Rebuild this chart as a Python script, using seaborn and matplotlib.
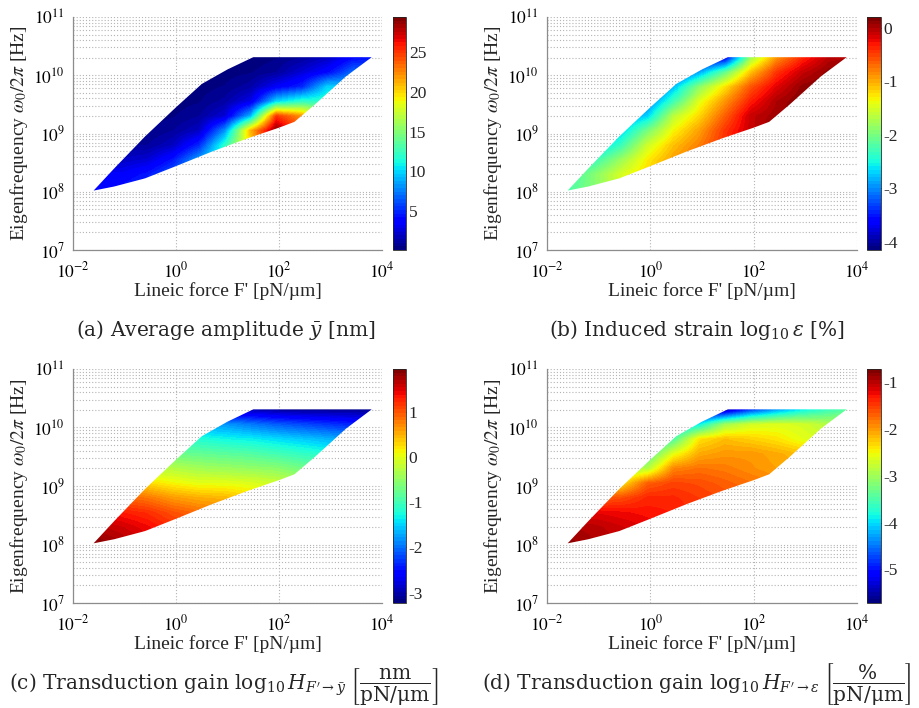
import numpy as np
import matplotlib
matplotlib.use("Agg")
import matplotlib.pyplot as plt
from matplotlib.patches import Polygon
import seaborn as sns

# ---------------- data (log10 units) ----------------
log_force = [-1.55, -1.05, -0.55, -0.05, 0.45, 0.95, 1.45, 1.95, 2.45, 2.95, 3.45, 3.95]
log_freq = [8.05, 8.3, 8.55, 8.8, 9.05, 9.3, 9.55, 9.8, 10.05, 10.3]

# outline of the swept parameter domain (log10 F', log10 omega0/2pi)
edge_force = [-1.6, -1.2, -0.6, 0.0, 0.5, 1.0, 1.5, 3.8, 3.3, 2.7, 2.3, 2.0, 1.4, 0.7, 0.0, -0.6, -1.2]
edge_freq = [8.02, 8.40, 8.95, 9.45, 9.85, 10.10, 10.31, 10.31, 9.98, 9.50, 9.20, 9.10, 8.92, 8.69, 8.44, 8.23, 8.09]

# (a) average amplitude [nm]; rows = log_freq (bottom -> top), cols = log_force
amplitude = [
    [4.0, 4.5, 5.5, 7.0, 9.0, 13, 20, 28, 24, 16, 12, 8],
    [3.5, 3.5, 4.5, 6.5, 9.0, 13, 20, 28, 24, 16, 12, 8],
    [2.0, 2.0, 2.5, 4.5, 8.5, 13, 20, 28, 24, 16, 12, 8],
    [1.0, 1.0, 1.0, 2.0, 5.0, 12, 20, 29, 24, 16, 12, 8],
    [0.5, 0.5, 0.5, 1.0, 2.0, 8.0, 21, 29, 24, 16, 12, 8],
    [0.3, 0.3, 0.3, 0.5, 1.0, 2.5, 9.0, 25, 22, 15, 12, 8],
    [0.2, 0.2, 0.2, 0.3, 0.5, 1.2, 3.0, 10, 12, 12, 10, 8],
    [0.2, 0.2, 0.2, 0.2, 0.3, 0.6, 1.3, 3.5, 5.0, 10, 9.0, 7],
    [0.2, 0.2, 0.2, 0.2, 0.2, 0.3, 0.5, 1.0, 2.5, 4.0, 7.0, 6],
    [0.2, 0.2, 0.2, 0.2, 0.2, 0.2, 0.2, 0.5, 1.0, 2.0, 4.0, 4.5],
]

# (b) induced strain log10(eps) [%]
strain = [
    [-2.2, -1.9, -1.5, -1.15, -0.8, -0.5, -0.3, 0.0, 0.1, 0.15, 0.15, 0.15],
    [-2.3, -1.9, -1.5, -1.2, -0.85, -0.55, -0.3, 0.0, 0.1, 0.15, 0.15, 0.15],
    [-2.7, -2.3, -1.8, -1.3, -0.95, -0.65, -0.35, -0.05, 0.1, 0.15, 0.15, 0.15],
    [-3.0, -2.8, -2.3, -1.55, -1.1, -0.8, -0.4, -0.1, 0.1, 0.15, 0.15, 0.15],
    [-3.3, -3.1, -2.7, -2.0, -1.35, -0.95, -0.45, -0.1, 0.1, 0.15, 0.15, 0.15],
    [-3.5, -3.3, -3.0, -2.7, -1.65, -1.2, -0.65, -0.1, 0.05, 0.15, 0.15, 0.15],
    [-3.6, -3.5, -3.3, -3.1, -2.3, -1.45, -0.9, -0.35, 0.0, 0.15, 0.15, 0.15],
    [-3.7, -3.6, -3.5, -3.3, -2.8, -1.9, -1.25, -0.6, -0.2, 0.1, 0.15, 0.15],
    [-3.8, -3.8, -3.7, -3.6, -3.4, -2.9, -2.1, -1.1, -0.45, -0.1, 0.1, 0.15],
    [-4.0, -4.0, -4.0, -3.9, -3.8, -3.8, -3.7, -1.8, -0.9, -0.4, -0.05, 0.0],
]

# (c) transduction gain log10 H_{F'->y} [nm/(pN/um)]
gain_amp = [
    [1.85, 1.7, 1.5, 1.35, 1.25, 1.15, 1.05, 0.95, 0.85, 0.75, 0.65, 0.6],
    [1.65, 1.55, 1.4, 1.2, 1.1, 1.0, 0.9, 0.8, 0.7, 0.6, 0.5, 0.45],
    [1.4, 1.3, 1.2, 1.0, 0.85, 0.75, 0.6, 0.5, 0.4, 0.3, 0.2, 0.15],
    [1.0, 0.9, 0.8, 0.6, 0.5, 0.45, 0.3, 0.2, 0.1, 0.0, -0.1, -0.15],
    [0.4, 0.3, 0.25, 0.1, 0.0, 0.0, -0.05, -0.15, -0.3, -0.4, -0.5, -0.55],
    [-0.2, -0.25, -0.3, -0.3, -0.4, -0.45, -0.5, -0.55, -0.7, -0.8, -0.9, -0.95],
    [-0.7, -0.7, -0.75, -0.75, -0.8, -0.85, -0.9, -1.0, -1.1, -1.2, -1.3, -1.35],
    [-1.2, -1.2, -1.2, -1.2, -1.2, -1.3, -1.35, -1.45, -1.55, -1.65, -1.75, -1.8],
    [-1.8, -1.8, -1.8, -1.8, -1.8, -1.8, -1.95, -2.1, -2.2, -2.3, -2.4, -2.45],
    [-2.9, -2.9, -2.9, -2.9, -2.9, -2.9, -2.95, -3.05, -3.1, -3.1, -3.1, -3.1],
]

# (d) transduction gain log10 H_{F'->eps} [%/(pN/um)]
gain_strain = [
    [-0.85, -0.95, -1.05, -1.15, -1.25, -1.35, -1.45, -1.55, -1.65, -1.75, -1.85, -1.9],
    [-0.95, -1.0, -1.1, -1.2, -1.3, -1.4, -1.5, -1.6, -1.7, -1.8, -1.85, -1.9],
    [-1.3, -1.2, -1.25, -1.3, -1.35, -1.45, -1.55, -1.65, -1.75, -1.85, -1.9, -1.95],
    [-1.8, -1.7, -1.6, -1.4, -1.4, -1.5, -1.6, -1.7, -1.8, -1.9, -1.95, -2.0],
    [-2.6, -2.5, -2.4, -1.7, -1.55, -1.6, -1.7, -1.8, -1.9, -1.95, -2.0, -2.05],
    [-3.2, -3.1, -3.0, -2.9, -1.9, -1.8, -1.85, -1.95, -2.05, -2.1, -2.15, -2.2],
    [-3.8, -3.7, -3.6, -3.5, -2.6, -2.1, -2.0, -2.0, -2.1, -2.2, -2.3, -2.4],
    [-4.2, -4.1, -4.0, -3.9, -3.5, -2.4, -2.2, -2.3, -2.4, -2.6, -2.7, -2.8],
    [-4.6, -4.5, -4.4, -4.3, -4.2, -3.9, -3.0, -2.7, -2.65, -2.7, -2.9, -3.0],
    [-5.6, -5.6, -5.6, -5.6, -5.6, -5.6, -5.5, -4.8, -4.3, -3.9, -3.6, -3.4],
]

color_ranges = {"a": (0.1, 29.4), "b": (-4.15, 0.2), "c": (-3.23, 1.94), "d": (-5.72, -0.72)}
cbar_ticks = {"a": [5, 10, 15, 20, 25], "b": [-4, -3, -2, -1, 0],
              "c": [-3, -2, -1, 0, 1], "d": [-5, -4, -3, -2, -1]}
x_decades = [-2, 0, 2, 4]
y_decades = [7, 8, 9, 10, 11]

captions = {
    "a": r"(a) Average amplitude $\bar{y}$ [nm]",
    "b": r"(b) Induced strain $\log_{10}\epsilon$ [%]",
    "c": r"(c) Transduction gain $\log_{10}H_{F^{\prime}\rightarrow\bar{y}}\;\left[\dfrac{\mathrm{nm}}{\mathrm{pN/\mu m}}\right]$",
    "d": r"(d) Transduction gain $\log_{10}H_{F^{\prime}\rightarrow\epsilon}\;\left[\dfrac{\%}{\mathrm{pN/\mu m}}\right]$",
}

# ---------------- style ----------------
sns.set_theme(style="white")
plt.rcParams["font.family"] = ["Liberation Serif", "DejaVu Serif"]
plt.rcParams["mathtext.fontset"] = "stix"
plt.rcParams["axes.unicode_minus"] = False

W, H = 920, 708
fig = plt.figure(figsize=(W / 100, H / 100), dpi=100)

def frac_box(l, r, t, b):
    return [l / W, 1 - b / H, (r - l) / W, (b - t) / H]

layout = {
    "a": (frac_box(73, 382, 17, 250), frac_box(393, 406, 17, 250)),
    "b": (frac_box(547, 857, 17, 250), frac_box(867, 881, 17, 250)),
    "c": (frac_box(73, 382, 369, 603), frac_box(393, 406, 369, 603)),
    "d": (frac_box(547, 857, 369, 603), frac_box(867, 881, 369, 603)),
}
fields = {"a": amplitude, "b": strain, "c": gain_amp, "d": gain_strain}
caption_pos = {"a": (226, 336), "b": (697, 336), "c": (224, 689), "d": (697, 689)}

jet = plt.get_cmap("jet", 64)
grid_col = "#b4b4b4"
minor_y = [d + np.log10(k) for d in y_decades[:-1] for k in range(2, 10)]

for key in "abcd":
    ax_box, cb_box = layout[key]
    ax = fig.add_axes(ax_box)
    cax = fig.add_axes(cb_box)
    vmin, vmax = color_ranges[key]
    dx = log_force[1] - log_force[0]
    dy = log_freq[1] - log_freq[0]
    extent = [log_force[0] - dx / 2, log_force[-1] + dx / 2,
              log_freq[0] - dy / 2, log_freq[-1] + dy / 2]
    im = ax.imshow(np.array(fields[key], dtype=float), origin="lower", extent=extent,
                   aspect="auto", cmap=jet, vmin=vmin, vmax=vmax,
                   interpolation="bilinear", interpolation_stage="data", zorder=2)
    domain = Polygon(np.column_stack([edge_force, edge_freq]), closed=True,
                     transform=ax.transData, facecolor="none", edgecolor="none")
    ax.add_patch(domain)
    im.set_clip_path(domain)

    ax.set_xlim(-2, 4)
    ax.set_ylim(7, 11)
    ax.set_xticks(x_decades)
    ax.set_xticklabels([rf"$10^{{{d}}}$" for d in x_decades])
    ax.set_yticks(y_decades)
    ax.set_yticklabels([rf"$10^{{{d}}}$" for d in y_decades])
    ax.set_yticks(minor_y, minor=True)
    ax.set_axisbelow(True)
    ax.grid(True, which="major", color=grid_col, linestyle=(0, (1, 1.8)), linewidth=0.8)
    ax.grid(True, which="minor", axis="y", color=grid_col, linestyle=(0, (1, 1.8)), linewidth=0.8)
    for s in ["top", "right"]:
        ax.spines[s].set_visible(False)
    for s in ["left", "bottom"]:
        ax.spines[s].set_color("#8c8c8c")
        ax.spines[s].set_linewidth(0.9)
    ax.tick_params(which="both", direction="in", length=0, labelsize=12.5, colors="black")
    ax.tick_params(axis="x", pad=8)
    ax.tick_params(axis="y", pad=6)
    ax.set_xlabel("Lineic force F' [pN/\u00b5m]", fontsize=14, labelpad=1)
    ax.set_ylabel(r"Eigenfrequency $\omega_0/2\pi$ [Hz]", fontsize=14, labelpad=2)

    cb = fig.colorbar(im, cax=cax, ticks=cbar_ticks[key])
    cb.outline.set_linewidth(0.6)
    cb.ax.tick_params(labelsize=12.5, length=2, width=0.6, direction="in", pad=2)
    cb.ax.set_yticklabels([str(t) for t in cbar_ticks[key]])

    cx, cy = caption_pos[key]
    fig.text(cx / W, 1 - cy / H, captions[key], ha="center", va="baseline",
             fontsize=14.5, family=["DejaVu Serif"], math_fontfamily="dejavuserif")

fig.savefig("out.png", dpi=100)
